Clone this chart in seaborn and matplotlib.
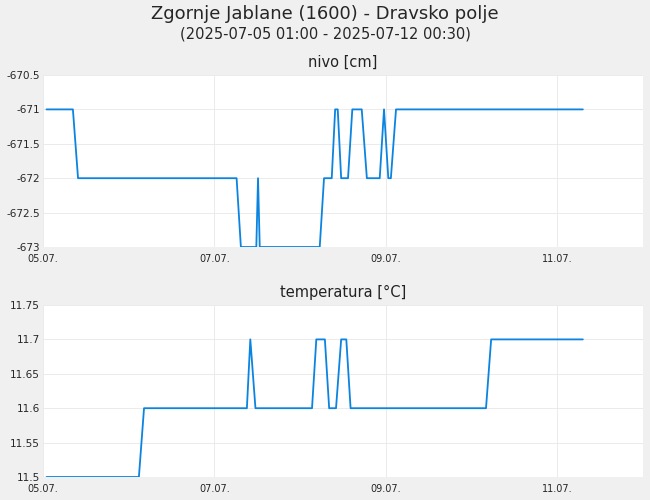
import matplotlib
matplotlib.use("Agg")
import matplotlib.pyplot as plt
import seaborn as sns
import pandas as pd

# times in days since 05.07. 00:00
lvl_t = [0.042, 0.35, 0.41, 2.26, 2.31, 2.49, 2.51, 2.53, 3.23, 3.28, 3.37, 3.41, 3.44, 3.48, 3.56, 3.61, 3.72, 3.78, 3.93, 3.98, 4.03, 4.06, 4.12, 6.30]
lvl_v = [-671, -671, -672, -672, -673, -673, -672, -673, -673, -672, -672, -671, -671, -672, -672, -671, -671, -672, -672, -671, -672, -672, -671, -671]
tmp_t = [0.042, 1.12, 1.18, 2.38, 2.42, 2.48, 3.14, 3.19, 3.29, 3.34, 3.42, 3.48, 3.54, 3.59, 5.17, 5.23, 6.30]
tmp_v = [11.5, 11.5, 11.6, 11.6, 11.7, 11.6, 11.6, 11.7, 11.7, 11.6, 11.6, 11.7, 11.7, 11.6, 11.6, 11.7, 11.7]
tick_pos = [0, 2, 4, 6]
tick_lab = ["05.07.", "07.07.", "09.07.", "11.07."]

sns.set_style("white")
plt.rcParams['font.family'] = ['DejaVu Sans']
fig = plt.figure(figsize=(6.5, 5), dpi=100, facecolor="#f0f0f0")
color = "#0a84e0"

def setup(ax, title, ylim, yticks, ylabels):
    ax.set_facecolor("white")
    ax.set_xlim(0, 7)
    ax.set_ylim(*ylim)
    ax.set_xticks(tick_pos)
    ax.set_xticklabels(tick_lab, fontsize=7)
    ax.set_yticks(yticks)
    ax.set_yticklabels(ylabels, fontsize=7.5)
    ax.grid(True, color="#e8e8e8", linewidth=0.6)
    for s in ax.spines.values():
        s.set_visible(False)
    ax.tick_params(axis="y", length=0, pad=2)
    ax.tick_params(axis="x", length=0, pad=5)
    ax.set_xlabel(""); ax.set_ylabel("")
    ax.set_title(title, fontsize=10.5, pad=6, color="#222222")

ax1 = fig.add_axes([0.066, 0.506, 0.923, 0.344])
sns.lineplot(x=lvl_t, y=lvl_v, ax=ax1, color=color, linewidth=1.3)
setup(ax1, "nivo [cm]", (-673, -670.5), [-673, -672.5, -672, -671.5, -671, -670.5],
      ["-673", "-672.5", "-672", "-671.5", "-671", "-670.5"])

ax2 = fig.add_axes([0.066, 0.046, 0.923, 0.344])
sns.lineplot(x=tmp_t, y=tmp_v, ax=ax2, color=color, linewidth=1.3)
setup(ax2, "temperatura [°C]", (11.5, 11.75), [11.5, 11.55, 11.6, 11.65, 11.7, 11.75],
      ["11.5", "11.55", "11.6", "11.65", "11.7", "11.75"])

fig.text(0.5, 0.972, "Zgornje Jablane (1600) - Dravsko polje", ha="center", va="center", fontsize=13)
fig.text(0.5, 0.932, "(2025-07-05 01:00 - 2025-07-12 00:30)", ha="center", va="center", fontsize=10.5)
fig.savefig("out.png", dpi=100, facecolor=fig.get_facecolor())
